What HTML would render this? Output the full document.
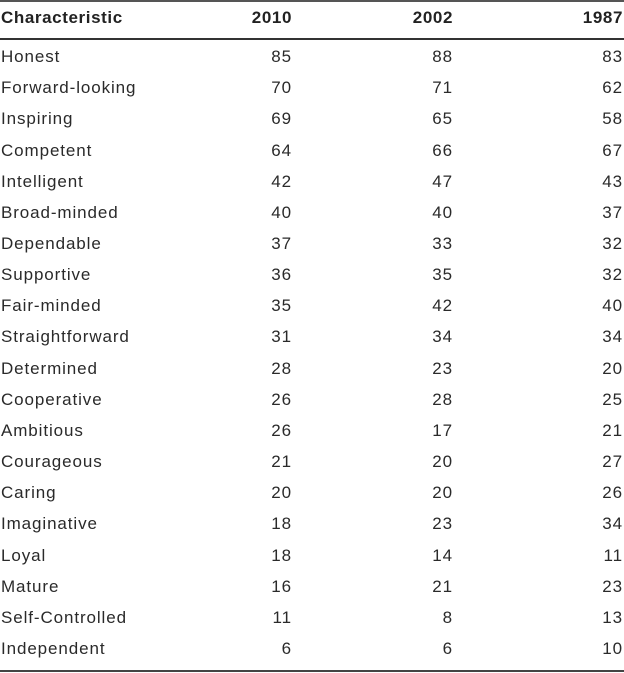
<!DOCTYPE html>
<html><head><meta charset="utf-8"><style>
html,body{margin:0;padding:0;background:#fff;}
body{width:624px;height:673px;position:relative;overflow:hidden;font-family:"Liberation Sans",sans-serif;font-size:17px;color:#2a2a2a;letter-spacing:0.9px;}
.r{position:absolute;left:0;width:624px;height:20px;line-height:20px;}
.r span{position:absolute;top:0;}
.c0{left:1px;}
.c1{right:332px;text-align:right;}
.c2{right:171px;text-align:right;}
.c3{right:1px;text-align:right;}
.h{font-weight:bold;color:#222;letter-spacing:0.6px;}
.line{position:absolute;left:0;width:624px;background:#444;}
</style></head><body>
<div class="line" style="top:0;height:2px;background:#555"></div>
<div class="line" style="top:38px;height:1.5px;background:#333"></div>
<div class="line" style="top:670px;height:2px;background:#444"></div>
<div class="r h" style="top:8px"><span class="c0">Characteristic</span><span class="c1">2010</span><span class="c2">2002</span><span class="c3">1987</span></div>
<div id="rows"></div>
<script>
var d=[["Honest",85,88,83],["Forward-looking",70,71,62],["Inspiring",69,65,58],["Competent",64,66,67],["Intelligent",42,47,43],["Broad-minded",40,40,37],["Dependable",37,33,32],["Supportive",36,35,32],["Fair-minded",35,42,40],["Straightforward",31,34,34],["Determined",28,23,20],["Cooperative",26,28,25],["Ambitious",26,17,21],["Courageous",21,20,27],["Caring",20,20,26],["Imaginative",18,23,34],["Loyal",18,14,11],["Mature",16,21,23],["Self-Controlled",11,8,13],["Independent",6,6,10]];
var h="";d.forEach(function(r,i){var t=(57+i*31.16-10).toFixed(1);h+='<div class="r" style="top:'+t+'px"><span class="c0">'+r[0]+'</span><span class="c1">'+r[1]+'</span><span class="c2">'+r[2]+'</span><span class="c3">'+r[3]+'</span></div>';});
document.getElementById("rows").innerHTML=h;
</script>
</body></html>
